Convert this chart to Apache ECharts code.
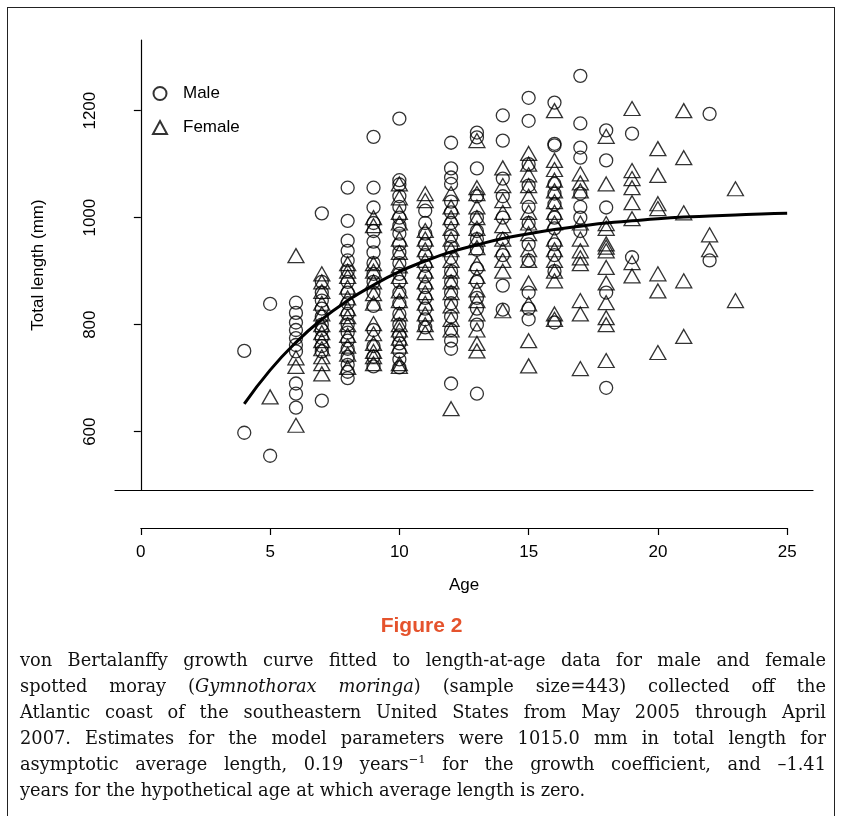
<!DOCTYPE html>
<html>
<head>
<meta charset="utf-8">
<script src="https://cdn.jsdelivr.net/npm/echarts@6/dist/echarts.min.js"></script>
<style>
  html, body { margin: 0; padding: 0; background: #fff; }
  #wrap { position: relative; width: 843px; height: 816px; overflow: hidden; }
  #frame { position: absolute; left: 7px; top: 7px; width: 828px; height: 900px; border: 1.5px solid #222; box-sizing: border-box; }
  #chart { position: absolute; left: 0; top: 0; width: 843px; height: 816px; }
  #figtitle { position: absolute; left: 0; width: 843px; top: 613px; text-align: center; font-family: "Liberation Sans Narrow", "Liberation Sans", sans-serif; font-weight: bold; font-size: 21px; color: #e5532d; }
  #caption { position: absolute; left: 20px; width: 806px; top: 647px; font-family: "DejaVu Serif", serif; font-size: 17.8px; line-height: 26px; color: #111; }
  #caption .ln { text-align: justify; text-align-last: justify; white-space: nowrap; }
  #caption .ln.last { text-align-last: left; }
  sup { font-size: 11.5px; line-height: 0; }
</style>
</head>
<body>
<div id="wrap">
  <div id="frame"></div>
  <div id="chart"></div>
  <div id="figtitle">Figure 2</div>
  <div id="caption">
    <div class="ln">von Bertalanffy growth curve fitted to length-at-age data for male and female</div>
    <div class="ln">spotted moray (<i>Gymnothorax moringa</i>) (sample size=443) collected off the</div>
    <div class="ln">Atlantic coast of the southeastern United States from May 2005 through April</div>
    <div class="ln">2007. Estimates for the model parameters were 1015.0 mm in total length for</div>
    <div class="ln">asymptotic average length, 0.19 years<sup>−1</sup> for the growth coefficient, and –1.41</div>
    <div class="ln last">years for the hypothetical age at which average length is zero.</div>
  </div>
</div>
<script>
// ---- data ----
const ages = [4, 5, 6, 7, 8, 9, 10, 11, 12, 13, 14, 15, 16, 17, 18, 19, 20, 21, 22, 23];

const maleLengths = [
  [751, 598],
  [839, 555],
  [841, 822, 804, 790, 775, 762, 750, 690, 671, 645],
  [1008, 880, 860, 845, 830, 815, 800, 790, 775, 760, 750, 658],
  [1056, 994, 957, 938, 920, 900, 880, 860, 840, 820, 800, 785, 770, 755, 740, 725, 712, 700],
  [1151, 1056, 1019, 990, 975, 955, 935, 915, 895, 880, 860, 835, 790, 760, 740, 722],
  [1185, 1070, 1062, 1040, 1020, 1000, 985, 970, 950, 935, 915, 895, 880, 860, 840, 820, 800, 780, 765, 750, 735, 720],
  [1013, 990, 970, 950, 930, 910, 890, 870, 850, 830, 810, 795],
  [1140, 1092, 1075, 1063, 1030, 1010, 990, 965, 945, 925, 900, 880, 860, 840, 815, 790, 770, 755, 690],
  [1159, 1150, 1092, 1040, 1000, 975, 960, 940, 905, 880, 850, 830, 800, 671],
  [1191, 1144, 1073, 1040, 1000, 960, 930, 873, 828],
  [1224, 1181, 1100, 1060, 1020, 990, 950, 920, 860, 830, 810],
  [1215, 1138, 1135, 1063, 1045, 1025, 1000, 980, 950, 930, 900, 804],
  [1265, 1176, 1131, 1112, 1045, 1020, 1000, 975],
  [1163, 1107, 1019, 860, 682],
  [1157, 926],
  [],
  [],
  [1194, 920],
  []
];

const femaleLengths = [
  [],
  [665],
  [929, 738, 722, 612],
  [895, 880, 862, 840, 820, 800, 785, 770, 755, 740, 727, 708],
  [914, 900, 890, 870, 850, 830, 815, 800, 780, 760, 745, 720],
  [1000, 985, 914, 900, 880, 858, 840, 802, 783, 765, 750, 740, 727],
  [1063, 1037, 1010, 990, 960, 935, 910, 890, 863, 845, 820, 800, 790, 775, 760, 727, 722],
  [1045, 1032, 976, 960, 940, 920, 900, 880, 860, 840, 820, 800, 785],
  [1045, 1020, 1000, 980, 960, 940, 920, 900, 880, 860, 835, 810, 790, 643],
  [1144, 1056, 1045, 1020, 1000, 980, 960, 944, 914, 890, 865, 845, 820, 790, 765, 751],
  [1093, 1060, 1032, 1010, 985, 960, 940, 920, 900, 826],
  [1120, 1100, 1080, 1060, 1040, 1010, 990, 970, 940, 920, 878, 839, 770, 723],
  [1200, 1107, 1090, 1070, 1050, 1030, 1010, 990, 960, 940, 920, 900, 882, 820, 810],
  [1082, 1065, 1050, 990, 960, 938, 925, 914, 845, 820, 718],
  [1152, 1063, 989, 980, 951, 945, 938, 907, 878, 841, 813, 800, 733],
  [1204, 1088, 1073, 1056, 1028, 998, 916, 891],
  [1129, 1079, 1026, 1017, 895, 863, 748],
  [1200, 1112, 1009, 882, 778],
  [968, 940],
  [1054, 845]
];

// fitted growth curve as drawn (read at each age)
const curveAges = [4, 5, 6, 7, 8, 9, 10, 11, 12, 13, 14, 15, 16, 17, 18, 19, 20, 21, 22, 23, 24, 25];
const curveLengths = [652, 715, 767, 810, 845, 874, 899, 919, 936, 949, 961, 970, 978, 984, 990, 994, 998, 1001, 1003, 1005, 1007, 1008];

const yTicks = [600, 800, 1000, 1200];
const xTicks = [0, 5, 10, 15, 20, 25];

// ---- build ----
function pairs(lengths) {
  const out = [];
  ages.forEach((a, i) => lengths[i].forEach(v => out.push([a, v])));
  return out;
}
const maleData = pairs(maleLengths);
const femaleData = pairs(femaleLengths);
const curveData = curveAges.map((a, i) => [a, curveLengths[i]]);

const FONT = '"Liberation Sans", Arial, sans-serif';
const H = 816;
const G = { left: 115, right: 30, top: 40, boxBottom: 490, axisY: 528 };
const xMin = -1, xMax = 26, yMin = 491, yMax = 1332;
const gw = 843 - G.left - G.right;
const px = v => G.left + (v - xMin) / (xMax - xMin) * gw;

const chart = echarts.init(document.getElementById('chart'), null, { renderer: 'canvas' });
chart.setOption({
  animation: false,
  backgroundColor: 'transparent',
  grid: [
    { left: G.left, right: G.right, top: G.top, bottom: H - G.boxBottom },
    { left: px(xTicks[0]), right: 843 - px(xTicks[xTicks.length - 1]), top: G.axisY - 10, bottom: H - G.axisY }
  ],
  legend: {
    data: ['Male', 'Female'],
    orient: 'vertical',
    left: 152, top: 85, padding: 0,
    itemGap: 17, itemWidth: 14, itemHeight: 13,
    textStyle: { fontFamily: FONT, fontSize: 17, color: '#000', padding: [0, 0, 0, 11] }
  },
  xAxis: [
    { type: 'value', gridIndex: 0, min: xMin, max: xMax,
      axisLine: { show: true, lineStyle: { color: '#000', width: 1.2 } },
      axisTick: { show: false }, axisLabel: { show: false }, splitLine: { show: false } },
    { type: 'value', gridIndex: 1, min: xTicks[0], max: xTicks[xTicks.length - 1], interval: 5,
      axisLine: { show: true, lineStyle: { color: '#000', width: 1.2 } },
      axisTick: { show: true, length: 7, lineStyle: { color: '#000', width: 1.2 } },
      axisLabel: { fontFamily: FONT, fontSize: 17, color: '#000', margin: 16 },
      splitLine: { show: false },
      name: 'Age', nameLocation: 'middle', nameGap: 49,
      nameTextStyle: { fontFamily: FONT, fontSize: 17, color: '#000' } }
  ],
  yAxis: [
    { type: 'value', gridIndex: 0, min: yMin, max: yMax,
      axisLine: { show: true, lineStyle: { color: '#000', width: 1.2 } },
      axisTick: { show: true, length: 7, customValues: yTicks, lineStyle: { color: '#000', width: 1.2 } },
      axisLabel: { customValues: yTicks, rotate: 90, formatter: v => String(v), fontFamily: FONT, fontSize: 17, color: '#000', margin: 16 },
      splitLine: { show: false },
      name: 'Total length (mm)', nameLocation: 'middle', nameGap: 68,
      nameTextStyle: { fontFamily: FONT, fontSize: 17, color: '#000' } },
    { type: 'value', gridIndex: 1, show: false }
  ],
  series: [
    { name: 'Male', type: 'scatter', xAxisIndex: 0, yAxisIndex: 0, data: maleData,
      symbol: 'circle', symbolSize: 13,
      itemStyle: { color: 'rgba(0,0,0,0)', borderColor: '#000', borderWidth: 1.3 } },
    { name: 'Female', type: 'scatter', xAxisIndex: 0, yAxisIndex: 0, data: femaleData,
      symbol: 'triangle', symbolSize: [16, 14],
      itemStyle: { color: 'rgba(0,0,0,0)', borderColor: '#000', borderWidth: 1.3 } },
    { name: 'curve', type: 'line', xAxisIndex: 0, yAxisIndex: 0, data: curveData,
      smooth: true, showSymbol: false, silent: true,
      lineStyle: { color: '#000', width: 3 } }
  ]
});
</script>
</body>
</html>
